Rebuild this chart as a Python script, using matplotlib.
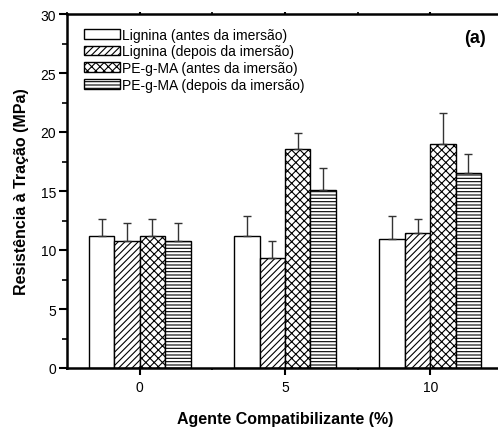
import numpy as np
import matplotlib
matplotlib.use("Agg")
import matplotlib.pyplot as plt
from matplotlib.ticker import MultipleLocator

# Tensile strength data (MPa) by compatibilizer content
compat = [0, 5, 10]
series_labels = [
    "Lignina (antes da imersão)",
    "Lignina (depois da imersão)",
    "PE-g-MA (antes da imersão)",
    "PE-g-MA (depois da imersão)",
]
lig_antes = [11.2, 11.15, 10.95]
lig_depois = [10.75, 9.35, 11.45]
peg_antes = [11.2, 18.55, 18.95]
peg_depois = [10.75, 15.1, 16.5]
lig_antes_err = [1.45, 1.7, 1.9]
lig_depois_err = [1.55, 1.45, 1.15]
peg_antes_err = [1.45, 1.4, 2.65]
peg_depois_err = [1.55, 1.85, 1.6]

values = [lig_antes, lig_depois, peg_antes, peg_depois]
errors = [lig_antes_err, lig_depois_err, peg_antes_err, peg_depois_err]
hatches = ["", "/////", "xxxx", "-----"]

plt.rcParams["font.family"] = ["Liberation Sans", "DejaVu Sans"]
plt.rcParams["hatch.linewidth"] = 0.8

fig = plt.figure(figsize=(4.98, 4.31), dpi=100)
ax = fig.add_axes([67 / 498, 62 / 431, 436 / 498, 354 / 431])

width = 0.875
x = np.array(compat, dtype=float)
for i, (vals, errs, h, lab) in enumerate(zip(values, errors, hatches, series_labels)):
    pos = x + (i - 1.5) * width
    ax.bar(pos, vals, width=width, facecolor="white", edgecolor="black",
           linewidth=1.0, hatch=h, label=lab, zorder=2)
    ax.errorbar(pos, vals, yerr=[np.zeros(len(errs)), errs], fmt="none",
                ecolor="#333333", elinewidth=1.0, capsize=3, capthick=1.0, zorder=3)

ax.set_xlim(-2.5, 12.5)
ax.set_ylim(0, 30)
ax.set_xticks(compat)
ax.set_xticklabels([str(c) for c in compat])
ax.xaxis.set_minor_locator(MultipleLocator(2.5))
ax.yaxis.set_major_locator(MultipleLocator(5))
ax.yaxis.set_minor_locator(MultipleLocator(2.5))

for side in ["left", "bottom", "top", "right"]:
    ax.spines[side].set_linewidth(1.8)

ax.tick_params(axis="y", which="major", direction="out", length=6, width=1.5,
               labelsize=10, pad=2)
ax.tick_params(axis="y", which="minor", direction="out", length=3.5, width=1.2)
ax.tick_params(axis="x", which="major", direction="out", length=5, width=1.5,
               labelsize=10, pad=4)
ax.tick_params(axis="x", which="minor", direction="out", length=1.5, width=1.2)
ax.tick_params(axis="x", which="both", top=True)
# top ticks stay very short
for t in ax.xaxis.get_major_ticks() + ax.xaxis.get_minor_ticks():
    t.tick2line.set_markersize(1.5)

ax.set_xlabel("Agente Compatibilizante (%)", fontsize=11.5, fontweight="bold", labelpad=12)
ax.set_ylabel("Resistência à Tração (MPa)", fontsize=11.5, fontweight="bold", labelpad=8)

ax.text(0.91, 0.935, "(a)", transform=ax.transAxes, fontsize=13,
        fontweight="bold", ha="left", va="center")

ax.legend(loc="upper left", bbox_to_anchor=(0.02, 0.985), frameon=False,
          fontsize=10, handlelength=2.6, handleheight=0.7, labelspacing=0.2,
          handletextpad=0.1, borderaxespad=0.2)

fig.savefig("out.png", dpi=100)
